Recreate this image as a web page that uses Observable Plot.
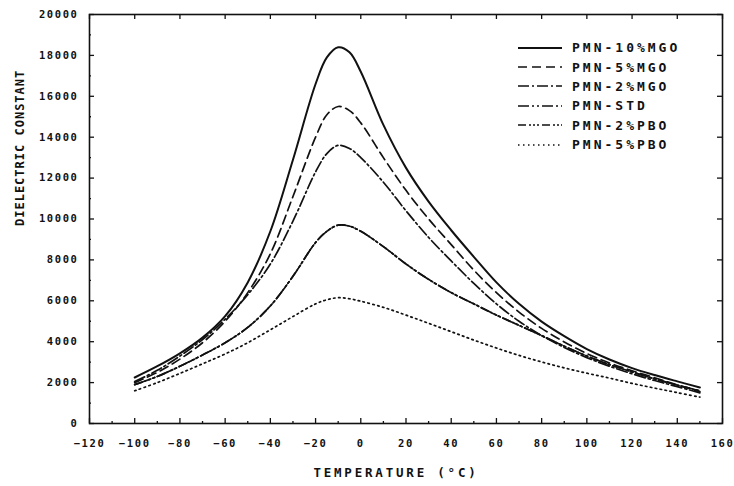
<!DOCTYPE html>
<html>
<head>
<meta charset="utf-8">
<script src="https://cdn.jsdelivr.net/npm/d3@7"></script>
<script src="https://cdn.jsdelivr.net/npm/@observablehq/plot@0.6"></script>
<style>
  body { margin: 0; background: #fff; }
  #wrap { position: relative; width: 734px; height: 486px; }
  #legend { position: absolute; left: 518px; top: 38px; font-family: "DejaVu Sans Mono", monospace; font-weight: bold; font-size: 13px; letter-spacing: 3px; color: #111; }
  #legend .row { display: flex; align-items: center; height: 19.4px; }
  #legend svg { margin-right: 10px; }
</style>
</head>
<body>
<div id="wrap"></div>
<script>
// ---- data ----
const temperature = [-100,-90,-80,-70,-60,-50,-40,-30,-20,-15,-10,-5,0,10,20,30,40,50,60,70,80,90,100,110,120,130,140,150];
const mgo10 = [2250,2800,3430,4200,5250,6900,9400,12900,16600,17900,18400,18150,17200,14600,12500,10850,9450,8150,6900,5850,4980,4270,3640,3130,2710,2370,2060,1760];
const mgo5  = [2000,2500,3150,3950,5000,6400,8300,11100,14000,15100,15500,15300,14700,13000,11400,10000,8750,7500,6400,5450,4650,3990,3420,2960,2580,2240,1880,1560];
const mgo2  = [2050,2600,3300,4100,5100,6300,7800,9900,12300,13200,13600,13450,13000,11800,10400,9100,7950,6850,5850,5000,4300,3720,3220,2800,2430,2100,1800,1500];
const std   = [1900,2300,2800,3350,3950,4700,5750,7200,8850,9400,9700,9650,9400,8650,7800,7050,6400,5850,5300,4800,4300,3780,3300,2880,2520,2180,1880,1600];
const pbo2  = [1900,2300,2800,3350,3950,4700,5750,7200,8850,9400,9700,9650,9400,8650,7800,7050,6400,5850,5300,4800,4300,3780,3300,2880,2520,2180,1880,1600];
const pbo5  = [1600,2000,2450,2920,3400,3950,4580,5230,5850,6050,6150,6100,5980,5680,5300,4900,4490,4080,3690,3330,3010,2720,2460,2220,1960,1730,1510,1290];
const seriesNames = ["PMN-10%MGO","PMN-5%MGO","PMN-2%MGO","PMN-STD","PMN-2%PBO","PMN-5%PBO"];
const seriesValues = [mgo10, mgo5, mgo2, std, pbo2, pbo5];
const dashes = [null, "9,5", "11,3,2,3", "11,3,2,3,2,3", "8,3,2,2,2,2,2,3", "1.5,3.5"];
const xTicks = d3.range(-120, 161, 20);
const xMinor = d3.range(-110, 160, 20);
const yTicks = d3.range(0, 20001, 2000);
const yMinor = d3.range(1000, 20000, 2000);
const xTitle = "TEMPERATURE (°C)";
const yTitle = "DIELECTRIC CONSTANT";

const W = 734, H = 486, mL = 89, mR = 12, mT = 14, mB = 63;
const innerW = W - mL - mR, innerH = H - mT - mB;
const font = "DejaVu Sans Mono";

const rows = [];
seriesNames.forEach((name, i) => temperature.forEach((t, j) => rows.push({name, t, v: seriesValues[i][j]})));

const marks = [];
seriesNames.forEach((name, i) => {
  marks.push(Plot.line(rows.filter(r => r.name === name), {
    x: "t", y: "v", curve: "catmull-rom", stroke: "#111",
    strokeWidth: i === 0 ? 2 : 1.7, strokeDasharray: dashes[i] || undefined
  }));
});

const chart = Plot.plot({
  width: W, height: H,
  marginLeft: mL, marginRight: mR, marginTop: mT, marginBottom: mB,
  x: {domain: [-120, 160]},
  y: {domain: [0, 20000]},
  style: {fontFamily: font, fontWeight: "bold", color: "#111", background: "#fff"},
  marks: [
    Plot.frame({stroke: "#111", strokeWidth: 1.6}),
    Plot.ruleX(xTicks, {insetTop: innerH - 5, stroke: "#111", strokeWidth: 1.3}),
    Plot.ruleX(xMinor, {insetTop: innerH - 2, stroke: "#111", strokeWidth: 1.3}),
    Plot.ruleX(xTicks, {insetBottom: innerH - 5, stroke: "#111", strokeWidth: 1.3}),
    Plot.ruleY(yTicks, {insetRight: innerW - 5, stroke: "#111", strokeWidth: 1.3}),
    Plot.ruleY(yMinor, {insetRight: innerW - 2, stroke: "#111", strokeWidth: 1.3}),
    Plot.ruleY(yTicks, {insetLeft: innerW - 5, stroke: "#111", strokeWidth: 1.3}),
    Plot.axisX({ticks: xTicks, tickSize: 0, tickPadding: 16, fontSize: 10.5, label: null}),
    Plot.axisY({ticks: yTicks, tickSize: 0, tickPadding: 11, fontSize: 10.5, label: null, tickFormat: d => String(d)}),
    Plot.text([xTitle], {frameAnchor: "bottom", dy: 53, dx: -10, fontSize: 12.5, fill: "#111"}),
    Plot.text([yTitle], {frameAnchor: "left", rotate: -90, dx: -69, dy: 7, fontSize: 12, fill: "#111"}),
    ...marks
  ]
});
const wrap = document.getElementById("wrap");
wrap.appendChild(chart);

// letter spacing for the plotter-like lettering
d3.select(chart).selectAll("text").each(function() {
  const t = this.textContent;
  if (t === xTitle) this.style.letterSpacing = "2.8px";
  else if (t === yTitle) this.style.letterSpacing = "1px";
  else this.style.letterSpacing = "1.6px";
});

// legend overlay inside the frame
const legend = document.createElement("div");
legend.id = "legend";
seriesNames.forEach((name, i) => {
  const row = document.createElement("div");
  row.className = "row";
  const dash = dashes[i] ? `stroke-dasharray="${dashes[i]}"` : "";
  row.innerHTML = `<svg width="44" height="6"><line x1="0" y1="3" x2="44" y2="3" stroke="#111" stroke-width="${i === 0 ? 2 : 1.7}" ${dash}/></svg><span>${name}</span>`;
  legend.appendChild(row);
});
wrap.appendChild(legend);
</script>
</body>
</html>
